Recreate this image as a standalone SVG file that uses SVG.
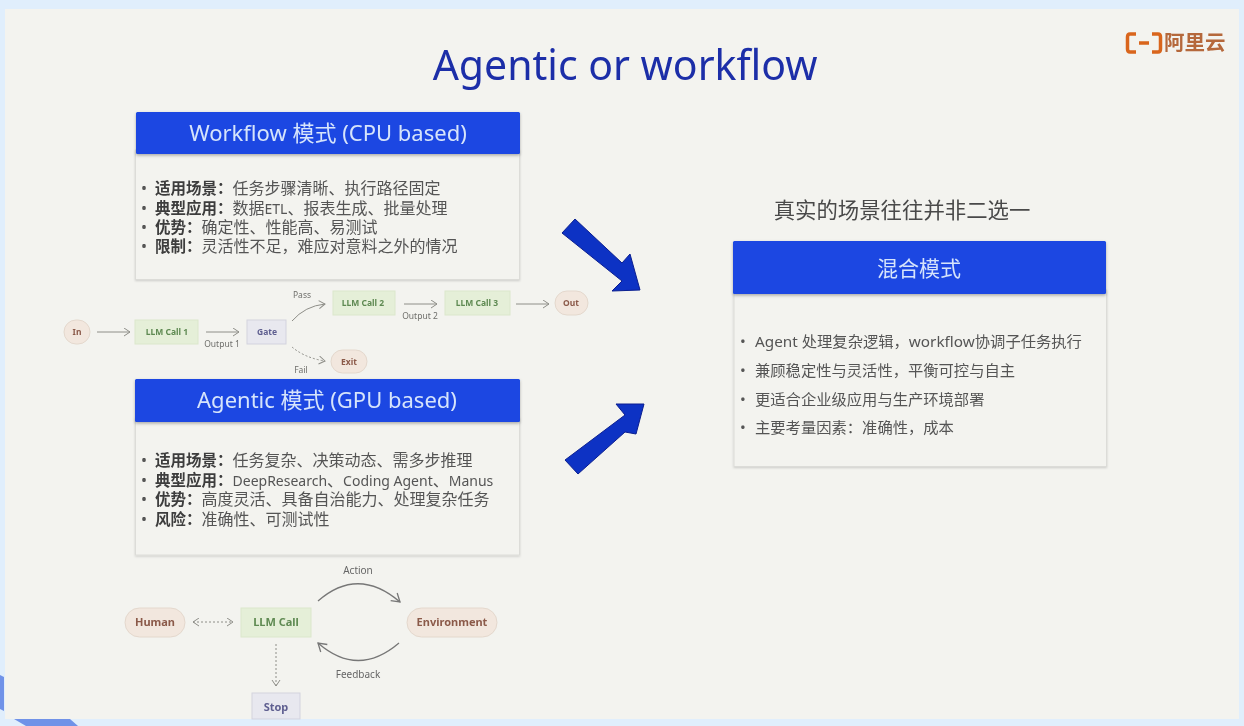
<svg xmlns="http://www.w3.org/2000/svg" width="1244" height="726" viewBox="0 0 1244 726">
<defs>
<filter id="sh" x="-5%" y="-10%" width="110%" height="125%"><feDropShadow dx="0" dy="1" stdDeviation="1" flood-color="#000" flood-opacity="0.16"/></filter>
<filter id="hs" x="-5%" y="-20%" width="110%" height="150%"><feDropShadow dx="0" dy="1.500" stdDeviation="1.500" flood-color="#000" flood-opacity="0.3"/></filter>
<filter id="soft" x="0" y="0" width="100%" height="100%"><feGaussianBlur stdDeviation="0.45"/></filter>
<marker id="a" markerWidth="9" markerHeight="10" refX="7" refY="4.500" orient="auto" markerUnits="userSpaceOnUse"><path d="M1 .5L7 4.500L1 8.500" fill="none" stroke="#8e8e88" stroke-width="1"/></marker>
<marker id="as" markerWidth="9" markerHeight="10" refX="1" refY="4.500" orient="auto" markerUnits="userSpaceOnUse"><path d="M7 .5L1 4.500L7 8.500" fill="none" stroke="#8e8e88" stroke-width="1"/></marker>
<marker id="al" markerWidth="12" markerHeight="12" refX="9" refY="6" orient="auto" markerUnits="userSpaceOnUse"><path d="M1 1L9 6L1 11" fill="none" stroke="#777" stroke-width="1.300"/></marker>
</defs>
<style>
text{font-family:"Noto Sans","Noto Sans CJK SC","Liberation Sans",sans-serif}
.h{fill:#1a46e2;filter:url(#hs)}
.ht{fill:#d6e4fb;font-size:22px;text-anchor:middle}
.c{fill:#f3f3ef;stroke:#dcdcd8;stroke-width:1;filter:url(#sh)}
.b{font-size:16px;fill:#555}
.b2{font-size:15.300px;fill:#555}
.k{font-weight:700;fill:#3c3c3c;font-size:15.500px}
.lat{font-size:14px}
.g{fill:#e5efd8;stroke:#dbe7cc}
.gt{fill:#5f8a52;font-size:8.500px;font-weight:700;text-anchor:middle}
.p{fill:#f2e7de;stroke:#e4d8cd}
.pt{fill:#8b5a4a;font-size:8.500px;font-weight:700;text-anchor:middle}
.v{fill:#e8e8ef;stroke:#d3d3de}
.vt{fill:#5f5f90;font-size:8.500px;font-weight:700;text-anchor:middle}
.big{font-size:11px}
.l{fill:#6f6f6b;font-size:8.500px;text-anchor:middle}
.l2{fill:#666;font-size:10px;text-anchor:middle}
.ln{fill:none;stroke:#8e8e88;stroke-width:1;marker-end:url(#a)}
.d{stroke-dasharray:2 2}
.arc{fill:none;stroke:#777;stroke-width:1.300;marker-end:url(#al)}
.arr{fill:#1030c4;stroke:#0a1f90;stroke-width:1}
</style>
<g filter="url(#soft)">
<rect width="1244" height="726" fill="#e0eefc"/>
<path d="M0 675L4 677V711L0 709z" fill="#6f92e8"/>
<path d="M14 719H70L78 726H26z" fill="#6f92e8"/>
<rect x="5" y="9" width="1234" height="710" fill="#f3f3ef"/>
<text id="title" x="625" y="80" font-size="41" fill="#1c2fa8" text-anchor="middle">Agentic or workflow</text>
<g id="logo">
<path d="M1136 34H1130Q1127.500 34 1127.500 37V49Q1127.500 52 1130 52H1136M1152 34H1158Q1160.500 34 1160.500 37V49Q1160.500 52 1158 52H1152M1139 43H1149" fill="none" stroke="#d9651c" stroke-width="3.500"/>
<text x="1164" y="50" font-size="20.500" font-weight="700" fill="#b5673a">阿里云</text>
</g>
<g id="workflow-card">
<rect class="c" x="135.500" y="150" width="384" height="129.500"/>
<rect class="h" x="136" y="112" width="384" height="42" rx="1.500"/>
<text class="ht" x="328" y="141">Workflow 模式 (CPU based)</text>
<g class="b">
<text x="141" y="194">•</text><text x="155" y="194"><tspan class="k">适用场景：</tspan>任务步骤清晰、执行路径固定</text>
<text x="141" y="214">•</text><text x="155" y="214"><tspan class="k">典型应用：</tspan>数据<tspan class="lat">ETL</tspan>、报表生成、批量处理</text>
<text x="141" y="233">•</text><text x="155" y="233"><tspan class="k">优势：</tspan>确定性、性能高、易测试</text>
<text x="141" y="252">•</text><text x="155" y="252"><tspan class="k">限制：</tspan>灵活性不足，难应对意料之外的情况</text>
</g>
</g>
<g id="agentic-card">
<rect class="c" x="135.500" y="418" width="384" height="137"/>
<rect class="h" x="135" y="379" width="385" height="43" rx="1.500"/>
<text class="ht" x="327" y="408">Agentic 模式 (GPU based)</text>
<g class="b">
<text x="141" y="466">•</text><text x="155" y="466"><tspan class="k">适用场景：</tspan>任务复杂、决策动态、需多步推理</text>
<text x="141" y="486">•</text><text x="155" y="486"><tspan class="k">典型应用：</tspan><tspan class="lat">DeepResearch</tspan>、<tspan class="lat">Coding Agent</tspan>、<tspan class="lat">Manus</tspan></text>
<text x="141" y="505">•</text><text x="155" y="505"><tspan class="k">优势：</tspan>高度灵活、具备自治能力、处理复杂任务</text>
<text x="141" y="525">•</text><text x="155" y="525"><tspan class="k">风险：</tspan>准确性、可测试性</text>
</g>
</g>
<g id="connectors">
<path class="ln" d="M97 332H130"/>
<path class="ln" d="M206 332H239"/>
<path class="ln" d="M292 321Q305 306 325 304"/>
<path class="ln d" d="M292 347Q305 358 325 361"/>
<path class="ln" d="M404 304H437"/>
<path class="ln" d="M516 304H549"/>
<path class="ln d" d="M193 622H233" marker-start="url(#as)"/>
<path class="ln d" d="M276 644V686"/>
<path class="arc" d="M318 601Q358 566 400 602"/>
<path class="arc" d="M399 643Q358 678 318 643"/>
<path class="arr" d="M562 233L575 219L622 263L630 254L640 290L612 291L622 281Z"/>
<path class="arr" d="M565 460L578 474L625 432L636 434L644 404L616 404L625 415Z"/>
</g>
<g id="flow-labels">
<text class="l" x="302" y="298">Pass</text>
<text class="l" x="222" y="347">Output 1</text>
<text class="l" x="420" y="319">Output 2</text>
<text class="l" x="301" y="373">Fail</text>
<text class="l2" x="358" y="574">Action</text>
<text class="l2" x="358" y="678">Feedback</text>
</g>
<g id="in"><rect class="p" x="64" y="320" width="26" height="24" rx="12"/><text class="pt" x="77" y="335">In</text></g>
<g id="llm1"><rect class="g" x="135" y="320" width="63" height="24"/><text class="gt" x="167" y="335">LLM Call 1</text></g>
<g id="gate"><rect class="v" x="247" y="320" width="39" height="24"/><text class="vt" x="267" y="335">Gate</text></g>
<g id="llm2"><rect class="g" x="333" y="291" width="62" height="24"/><text class="gt" x="363" y="306">LLM Call 2</text></g>
<g id="llm3"><rect class="g" x="445" y="291" width="65" height="24"/><text class="gt" x="477" y="306">LLM Call 3</text></g>
<g id="out"><rect class="p" x="555" y="291" width="33" height="24" rx="12"/><text class="pt" x="571" y="306">Out</text></g>
<g id="exit"><rect class="p" x="331" y="350" width="36" height="23" rx="11.500"/><text class="pt" x="349" y="365">Exit</text></g>
<g id="human"><rect class="p" x="125" y="608" width="60" height="29" rx="14.500"/><text class="pt big" x="155" y="626">Human</text></g>
<g id="llm"><rect class="g" x="241" y="608" width="70" height="29"/><text class="gt big" x="276" y="626">LLM Call</text></g>
<g id="env"><rect class="p" x="407" y="608" width="90" height="29" rx="14.500"/><text class="pt big" x="452" y="626">Environment</text></g>
<g id="stop"><rect class="v" x="252" y="693" width="48" height="26"/><text class="vt big" x="276" y="711">Stop</text></g>
<text id="caption" x="902" y="218" font-size="21.400" fill="#4a4a4a" text-anchor="middle">真实的场景往往并非二选一</text>
<g id="hybrid-card">
<rect class="c" x="734" y="290" width="372.500" height="176.500"/>
<rect class="h" x="733" y="241" width="373" height="53" rx="1.500"/>
<text class="ht" x="919" y="276" style="font-size:21px">混合模式</text>
<g class="b2">
<text x="740" y="347">•</text><text x="755" y="347">Agent 处理复杂逻辑，workflow协调子任务执行</text>
<text x="740" y="376">•</text><text x="755" y="376">兼顾稳定性与灵活性，平衡可控与自主</text>
<text x="740" y="405">•</text><text x="755" y="405">更适合企业级应用与生产环境部署</text>
<text x="740" y="433">•</text><text x="755" y="433">主要考量因素：准确性，成本</text>
</g>
</g>
</g>
</svg>
